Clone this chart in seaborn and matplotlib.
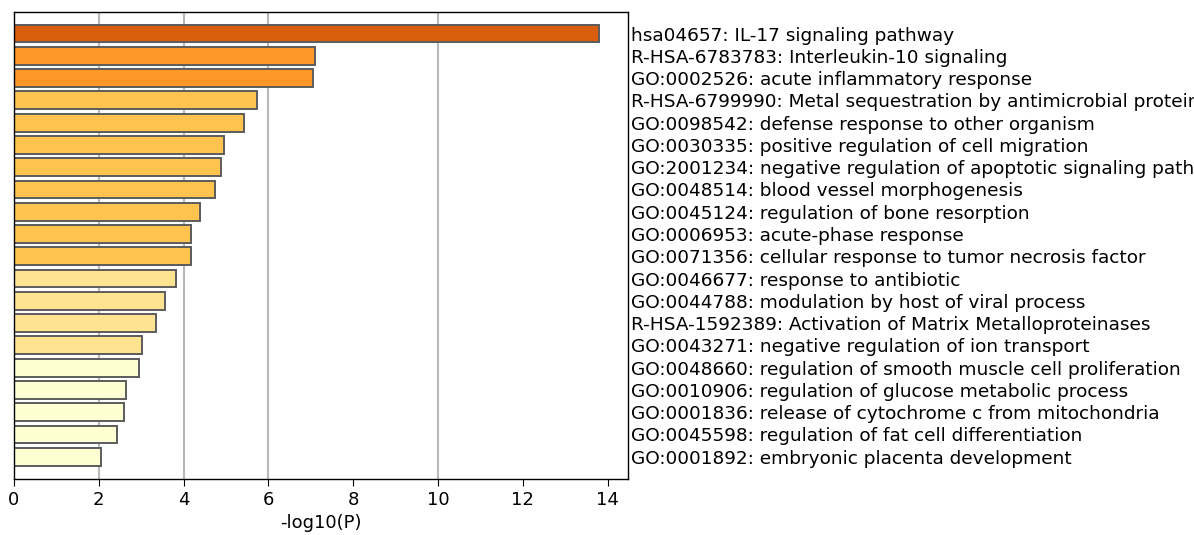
import matplotlib
matplotlib.use("Agg")
import matplotlib.pyplot as plt
import seaborn as sns
import pandas as pd

# Enriched terms, top to bottom
terms = [
    "hsa04657: IL-17 signaling pathway",
    "R-HSA-6783783: Interleukin-10 signaling",
    "GO:0002526: acute inflammatory response",
    "R-HSA-6799990: Metal sequestration by antimicrobial proteins",
    "GO:0098542: defense response to other organism",
    "GO:0030335: positive regulation of cell migration",
    "GO:2001234: negative regulation of apoptotic signaling pathway",
    "GO:0048514: blood vessel morphogenesis",
    "GO:0045124: regulation of bone resorption",
    "GO:0006953: acute-phase response",
    "GO:0071356: cellular response to tumor necrosis factor",
    "GO:0046677: response to antibiotic",
    "GO:0044788: modulation by host of viral process",
    "R-HSA-1592389: Activation of Matrix Metalloproteinases",
    "GO:0043271: negative regulation of ion transport",
    "GO:0048660: regulation of smooth muscle cell proliferation",
    "GO:0010906: regulation of glucose metabolic process",
    "GO:0001836: release of cytochrome c from mitochondria",
    "GO:0045598: regulation of fat cell differentiation",
    "GO:0001892: embryonic placenta development",
]
neg_log_p = [13.79, 7.10, 7.06, 5.73, 5.42, 4.95, 4.89, 4.73, 4.39, 4.17,
             4.17, 3.83, 3.55, 3.34, 3.02, 2.96, 2.65, 2.59, 2.43, 2.06]
bar_colors = ["#D95F0E", "#FE9929", "#FE9929"] + ["#FEC44F"] * 8 + \
             ["#FEE391"] * 4 + ["#FFFFD4"] * 5
grid_x = [2, 4, 6, 10]

df = pd.DataFrame({"term": terms, "logp": neg_log_p})

sns.set_style("white")
plt.rcParams["font.family"] = ["DejaVu Sans"]
plt.rcParams["text.color"] = "black"
plt.rcParams["xtick.color"] = "black"
plt.rcParams["ytick.color"] = "black"
plt.rcParams["axes.labelcolor"] = "black"

fig = plt.figure(figsize=(11.94, 5.35), dpi=100)
ax = fig.add_axes([0.0117, 0.1047, 0.5143, 0.8729])

for gx in grid_x:
    ax.axvline(gx, color="#b8b8b8", linewidth=1.5, zorder=0)

sns.barplot(data=df, x="logp", y="term", hue="term", palette=bar_colors,
            saturation=1, legend=False, width=0.8, edgecolor="#5c5c5c",
            linewidth=1.4, ax=ax, zorder=2)

ax.set_xlim(0, 14.48)
ax.set_ylim(len(terms) - 0.0, -0.97)
ax.yaxis.tick_right()
ax.tick_params(axis="y", length=0, labelsize=13.3, pad=2)
ax.tick_params(axis="x", length=5, labelsize=13, direction="out", bottom=True)
ax.set_xticks([0, 2, 4, 6, 8, 10, 12, 14])
for lbl in ax.get_yticklabels():
    lbl.set_horizontalalignment("left")
ax.set_ylabel("")
ax.set_xlabel("-log10(P)", fontsize=13)
for s in ax.spines.values():
    s.set_color("black")
    s.set_linewidth(1.0)

fig.savefig("out.png", dpi=100)
